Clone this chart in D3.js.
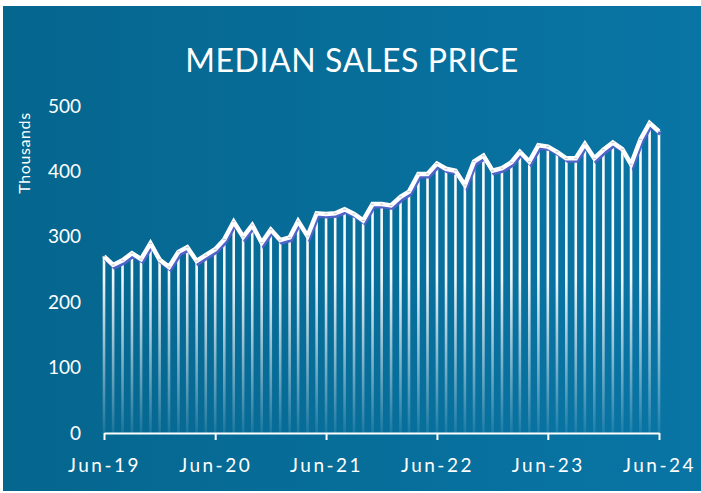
<!DOCTYPE html>
<html>
<head>
<meta charset="utf-8">
<script src="https://cdn.jsdelivr.net/npm/d3@7"></script>
<style>
  html, body { margin: 0; padding: 0; background: #fff; }
  svg { display: block; }
  text { font-family: Lato, "Noto Sans", sans-serif; fill: #fff; }
</style>
</head>
<body>
<svg id="chart" width="701" height="493"></svg>
<script>
// monthly median sales price (thousands), Jun-19 .. Jun-24
const prices = [
  270, 257, 264, 275, 266, 290, 265, 254, 277, 284, 263, 272,
  281, 296, 323, 300, 318, 291, 311, 295, 299, 324, 301, 336,
  335, 336, 342, 335, 325, 350, 350, 348, 361, 369, 396, 396,
  412, 404, 401, 379, 415, 424, 401, 405, 414, 430, 415, 440,
  438, 430, 420, 420, 442, 420, 433, 444, 434, 411, 449, 474,
  461
];
const startMonth = new Date(2019, 5, 1);
const months = prices.map((_, i) => d3.timeMonth.offset(startMonth, i));
const xTickDates = [2019, 2020, 2021, 2022, 2023, 2024].map(y => new Date(y, 5, 1));
const yTicks = [0, 100, 200, 300, 400, 500];
const data = months.map((d, i) => ({ date: d, value: prices[i] }));

const width = 701, height = 493;
const svg = d3.select("#chart");
const defs = svg.append("defs");

// background
const bg = defs.append("linearGradient").attr("id", "bg")
  .attr("x1", "0%").attr("x2", "100%").attr("y1", "0%").attr("y2", "0%");
bg.append("stop").attr("offset", "0%").attr("stop-color", "#05668e");
bg.append("stop").attr("offset", "100%").attr("stop-color", "#0975a5");
svg.append("rect")
  .attr("x", 3).attr("y", 6).attr("width", width - 3).attr("height", height - 8)
  .attr("fill", "url(#bg)");

const x = d3.scaleTime().domain([months[0], months[months.length - 1]]).range([104, 659]);
const y = d3.scaleLinear().domain([0, 500]).range([433, 106]);

// fading drop lines
const drop = defs.append("linearGradient").attr("id", "drop")
  .attr("gradientUnits", "userSpaceOnUse")
  .attr("x1", 0).attr("x2", 0).attr("y1", 120).attr("y2", 433);
drop.append("stop").attr("offset", "0%").attr("stop-color", "#fff").attr("stop-opacity", 1);
drop.append("stop").attr("offset", "50%").attr("stop-color", "#fff").attr("stop-opacity", 0.95);
drop.append("stop").attr("offset", "100%").attr("stop-color", "#fff").attr("stop-opacity", 0.08);

svg.append("g").selectAll("line")
  .data(data)
  .join("line")
  .attr("x1", d => x(d.date)).attr("x2", d => x(d.date))
  .attr("y1", d => y(d.value)).attr("y2", y(0))
  .attr("stroke", "url(#drop)")
  .attr("stroke-width", 2.6);

const line = d3.line().x(d => x(d.date)).y(d => y(d.value));

// shadow under the line
svg.append("path")
  .datum(data)
  .attr("d", line)
  .attr("transform", "translate(1.5,2.5)")
  .attr("fill", "none")
  .attr("stroke", "#5163c8")
  .attr("stroke-width", 4)
  .attr("stroke-linejoin", "miter");

svg.append("path")
  .datum(data)
  .attr("d", line)
  .attr("fill", "none")
  .attr("stroke", "#fff")
  .attr("stroke-width", 4.5)
  .attr("stroke-linejoin", "miter");

// small grey point marks
svg.append("g").selectAll("rect")
  .data(data)
  .join("rect")
  .attr("x", d => x(d.date) - 1.5).attr("y", d => y(d.value) - 0.5)
  .attr("width", 3).attr("height", 1)
  .attr("fill", "#c8c8c8");

// x axis
const xAxis = svg.append("g")
  .attr("transform", `translate(0,${y(0)})`)
  .call(d3.axisBottom(x).tickValues(xTickDates).tickFormat(d3.timeFormat("%b-%y"))
    .tickSize(7).tickSizeOuter(0));
xAxis.select(".domain").attr("stroke", "#fff").attr("stroke-width", 2);
xAxis.selectAll(".tick line").attr("stroke", "#fff").attr("stroke-width", 2);
xAxis.selectAll(".tick text")
  .attr("y", 39).attr("dy", 0)
  .attr("fill", "#fff")
  .style("font-size", "19px")
  .style("letter-spacing", "2.5px");

// y axis
const yAxis = svg.append("g")
  .attr("transform", "translate(83,0)")
  .call(d3.axisLeft(y).tickValues(yTicks).tickSize(0).tickPadding(2));
yAxis.select(".domain").remove();
yAxis.selectAll(".tick text")
  .attr("fill", "#fff")
  .style("font-size", "19px");

svg.append("text")
  .attr("transform", "translate(30,153) rotate(-90)")
  .attr("text-anchor", "middle")
  .style("font-size", "16px")
  .style("letter-spacing", "0.6px")
  .text("Thousands");

svg.append("text")
  .attr("x", 352).attr("y", 72)
  .attr("text-anchor", "middle")
  .style("font-size", "32px")
  .style("letter-spacing", "0.6px")
  .text("MEDIAN SALES PRICE");
</script>
</body>
</html>
